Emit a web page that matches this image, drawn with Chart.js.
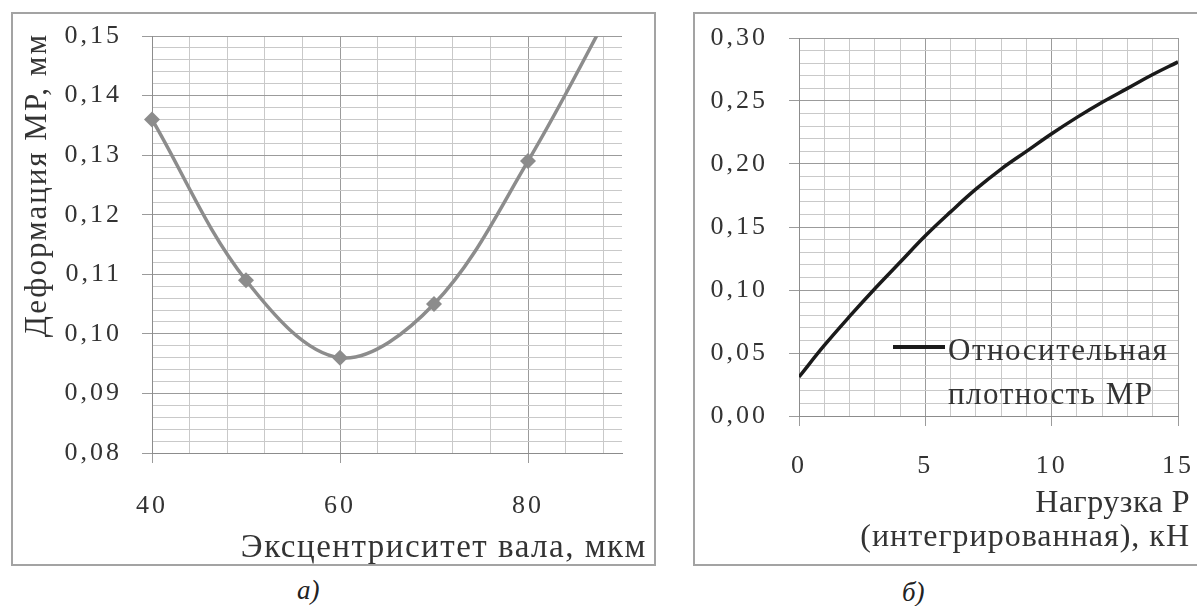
<!DOCTYPE html>
<html>
<head>
<meta charset="utf-8">
<script src="https://cdn.jsdelivr.net/npm/chart.js"></script>
<style>
body { margin: 0; width: 1197px; height: 606px; overflow: hidden; background: #fff; position: relative; font-family: 'Liberation Serif', 'Times New Roman', Tinos, 'DejaVu Serif', serif; color: #333; }
.box { position: absolute; border: 2px solid #a3a3a3; background: #fff; }
#boxA { left: 11px; top: 12px; width: 641px; height: 550px; }
#boxB { left: 693px; top: 12px; width: 504px; height: 550px; }
.box canvas { position: absolute; left: 0; top: 0; }
.t { position: absolute; white-space: nowrap; font-size: 33px; line-height: 1; letter-spacing: 1.5px; }
.cap { position: absolute; font-size: 27px; line-height: 1; font-style: italic; color: #222; }
</style>
</head>
<body>
<div class="box" id="boxA"><canvas id="chart-a" width="641" height="550"></canvas></div>
<div class="box" id="boxB"><canvas id="chart-b" width="504" height="550"></canvas></div>

<div class="t" style="left:16px; top:453px; width:420px; text-align:right; line-height:40px; font-size:31px; letter-spacing:2px; transform-origin:0 0; transform:rotate(-90deg);">Деформация МР, мм</div>
<div class="t" style="right:550px; top:530px;">Эксцентриситет вала, мкм</div>
<div class="t" style="right:7px; top:485px; font-size:32px; letter-spacing:0.5px;">Нагрузка Р</div>
<div class="t" style="right:7px; top:519px; font-size:32px; letter-spacing:1px;">(интегрированная), кН</div>

<div style="position:absolute; left:893px; top:345px; width:52px; height:4px; background:#1a1a1a;"></div>
<div class="t" style="left:948px; top:334px; font-size:31px;">Относительная</div>
<div class="t" style="left:948px; top:378px; font-size:31px;">плотность МР</div>

<div class="cap" style="left:297px; top:577px;">а)</div>
<div class="cap" style="left:902px; top:579px;">б)</div>

<script>
// chart a: eccentricity vs deformation
const eccX = [40, 50, 60, 70, 80, 90];
const deform = [0.136, 0.109, 0.096, 0.105, 0.129, 0.158];

// chart b: load vs relative density
const loadX = [0, 1, 2, 3, 4, 5, 6, 7, 8, 9, 10, 11, 12, 13, 14, 15];
const density = [0.031, 0.056, 0.079, 0.101, 0.122, 0.143, 0.162, 0.180, 0.196, 0.210, 0.224, 0.237, 0.249, 0.260, 0.271, 0.281];

const majorGrid = '#9b9b9b';
const minorGrid = '#c9c9c9';
const tickFont = { family: "'Liberation Serif', 'Times New Roman', Tinos, 'DejaVu Serif', serif", size: 26 };

// wider letter spacing for the tick numbers
const spacing = {
    id: 'spacing',
    beforeDraw(chart) {
        chart.ctx.letterSpacing = '3px';
    },
};

function comma(v) {
    return v.toFixed(2).replace('.', ',');
}

function axis(opts) {
    return {
        type: 'linear',
        min: opts.min,
        max: opts.max,
        afterFit: (s) => {
            opts.fit(s);
            // layout padding is set by hand, drop the automatic label padding
            s.paddingTop = 0;
            s.paddingBottom = 0;
            s.paddingLeft = 0;
            s.paddingRight = 0;
        },
        border: { display: true, color: '#8c8c8c', width: 1 },
        grid: {
            color: (c) => opts.isMajor(c.tick.value) ? majorGrid : minorGrid,
            tickColor: (c) => opts.isMajor(c.tick.value) ? majorGrid : 'transparent',
            tickLength: 10,
            lineWidth: 1,
        },
        ticks: {
            stepSize: opts.step,
            autoSkip: false,
            maxRotation: 0,
            includeBounds: false,
            padding: opts.pad,
            color: '#333',
            font: tickFont,
            callback: (v) => opts.isMajor(v) ? opts.fmt(v) : '',
        },
    };
}

new Chart(document.getElementById('chart-a'), {
    type: 'line',
    data: {
        datasets: [
            {
                data: eccX.map((x, i) => ({ x: x, y: deform[i] })),
                borderColor: '#8c8c8c',
                backgroundColor: '#8c8c8c',
                borderWidth: 3.5,
                pointStyle: 'rectRot',
                pointRadius: 8,
                pointBorderWidth: 0,
                pointBackgroundColor: '#8c8c8c',
                tension: 0.35,
                clip: { left: 10, top: 0, right: 0, bottom: 0 },
            },
        ],
    },
    options: {
        responsive: false,
        animation: false,
        layout: { padding: { top: 22, right: 32, left: 0, bottom: 0 } },
        plugins: { legend: { display: false }, tooltip: { enabled: false } },
        scales: {
            x: axis({
                min: 40, max: 90, step: 4, pad: 28,
                isMajor: (v) => v % 20 === 0,
                fmt: (v) => String(v),
                fit: (s) => { s.height = 111; },
            }),
            y: axis({
                min: 0.08, max: 0.15, step: 0.002, pad: 20,
                isMajor: (v) => Math.round(v * 1000) % 10 === 0,
                fmt: comma,
                fit: (s) => { s.width = 139; },
            }),
        },
    },
    plugins: [spacing],
});

new Chart(document.getElementById('chart-b'), {
    type: 'line',
    data: {
        datasets: [
            {
                data: loadX.map((x, i) => ({ x: x, y: density[i] })),
                borderColor: '#1a1a1a',
                borderWidth: 3.5,
                pointRadius: 0,
                tension: 0.4,
            },
        ],
    },
    options: {
        responsive: false,
        animation: false,
        layout: { padding: { top: 24, right: 21, left: 0, bottom: 0 } },
        plugins: { legend: { display: false }, tooltip: { enabled: false } },
        scales: {
            x: axis({
                min: 0, max: 15, step: 1, pad: 25,
                isMajor: (v) => v % 5 === 0,
                fmt: (v) => String(v),
                fit: (s) => { s.height = 148; },
            }),
            y: axis({
                min: 0, max: 0.3, step: 0.01, pad: 21,
                isMajor: (v) => Math.round(v * 100) % 5 === 0,
                fmt: comma,
                fit: (s) => { s.width = 104; },
            }),
        },
    },
    plugins: [spacing],
});
</script>
</body>
</html>
